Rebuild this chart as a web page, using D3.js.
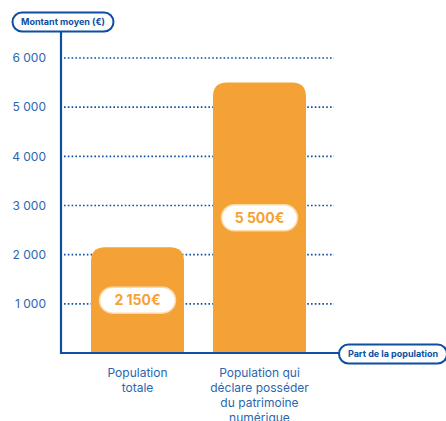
<!DOCTYPE html>
<html>
<head>
<meta charset="utf-8">
<script src="https://cdn.jsdelivr.net/npm/d3@7"></script>
<style>
  body { margin: 0; background: #fff; }
  text { font-family: Inter, "Noto Sans", sans-serif; }
</style>
</head>
<body>
<div id="chart"></div>
<script>
// data
const categories = [["Population", "totale"], ["Population qui", "déclare posséder", "du patrimoine", "numérique"]];
const values = [2150, 5500];
const valueLabels = ["2 150€", "5 500€"];
const yTicks = [1000, 2000, 3000, 4000, 5000, 6000];

const blue = "#0d4fa2", textBlue = "#2a66b0", orange = "#f4a236";

// dimensions
const width = 446, height = 421;
const x0 = 61, y0 = 353;

const svg = d3.select("#chart")
    .append("svg")
    .attr("width", width)
    .attr("height", height);

const y = d3.scaleLinear()
    .domain([0, 6000])
    .range([y0, 58]);

const x = d3.scaleBand()
    .domain(categories.map((d, i) => i))
    .range([91, 306])
    .paddingInner(0.2377)
    .paddingOuter(0);

// gridlines
svg.selectAll(".grid")
    .data(yTicks)
    .join("line")
    .attr("x1", 64)
    .attr("x2", 334)
    .attr("y1", d => y(d))
    .attr("y2", d => y(d))
    .attr("stroke", blue)
    .attr("stroke-width", 1.6)
    .attr("stroke-dasharray", "1.6 2.2");

// tick labels
svg.selectAll(".tick")
    .data(yTicks)
    .join("text")
    .attr("x", 46)
    .attr("y", d => y(d))
    .attr("dy", "0.35em")
    .attr("text-anchor", "end")
    .attr("font-size", 12)
    .attr("fill", textBlue)
    .text(d => d3.format(",")(d).replace(",", " "));

// bars with rounded top
const r = 14;
function barPath(d, i) {
    const bx = x(i), bw = x.bandwidth(), top = y(d);
    return `M${bx},${y0} V${top + r} Q${bx},${top} ${bx + r},${top} H${bx + bw - r} Q${bx + bw},${top} ${bx + bw},${top + r} V${y0} Z`;
}
svg.selectAll(".bar")
    .data(values)
    .join("path")
    .attr("d", barPath)
    .attr("fill", orange);

// value pills
const pills = svg.selectAll(".pill")
    .data(values)
    .join("g")
    .attr("transform", (d, i) => `translate(${x(i) + x.bandwidth() / 2},${(y(d) + y0) / 2})`);
pills.append("rect")
    .attr("x", -38).attr("y", -13)
    .attr("width", 76).attr("height", 26)
    .attr("rx", 13)
    .attr("fill", "#fff")
    .attr("stroke", "#fbd9a8")
    .attr("stroke-width", 1.5);
pills.append("text")
    .attr("text-anchor", "middle")
    .attr("dy", "0.36em")
    .attr("font-size", 14)
    .attr("font-weight", 700)
    .attr("fill", orange)
    .text((d, i) => valueLabels[i]);

// axes
svg.append("line")
    .attr("x1", x0).attr("x2", x0)
    .attr("y1", 31).attr("y2", y0 + 1)
    .attr("stroke", blue).attr("stroke-width", 2.2);
svg.append("line")
    .attr("x1", x0 - 1).attr("x2", 340)
    .attr("y1", y0).attr("y2", y0)
    .attr("stroke", blue).attr("stroke-width", 2.2);

// axis title pills
function titlePill(cx, cy, w, label) {
    const g = svg.append("g").attr("transform", `translate(${cx},${cy})`);
    g.append("rect")
        .attr("x", -w / 2).attr("y", -9.5)
        .attr("width", w).attr("height", 19)
        .attr("rx", 9.5)
        .attr("fill", "#fff")
        .attr("stroke", blue)
        .attr("stroke-width", 2);
    g.append("text")
        .attr("text-anchor", "middle")
        .attr("dy", "0.35em")
        .attr("font-size", 9)
        .attr("font-weight", 700)
        .attr("fill", blue)
        .text(label);
}
titlePill(63, 22, 101, "Montant moyen (€)");
titlePill(393, 354, 108, "Part de la population");

// category labels
svg.selectAll(".cat")
    .data(categories)
    .join("text")
    .attr("x", (d, i) => x(i) + x.bandwidth() / 2)
    .attr("y", 377)
    .attr("text-anchor", "middle")
    .attr("font-size", 12)
    .attr("fill", textBlue)
    .selectAll("tspan")
    .data(d => d)
    .join("tspan")
    .attr("x", function () { return d3.select(this.parentNode).attr("x"); })
    .attr("dy", (d, i) => i === 0 ? 0 : 15)
    .text(d => d);
</script>
</body>
</html>
